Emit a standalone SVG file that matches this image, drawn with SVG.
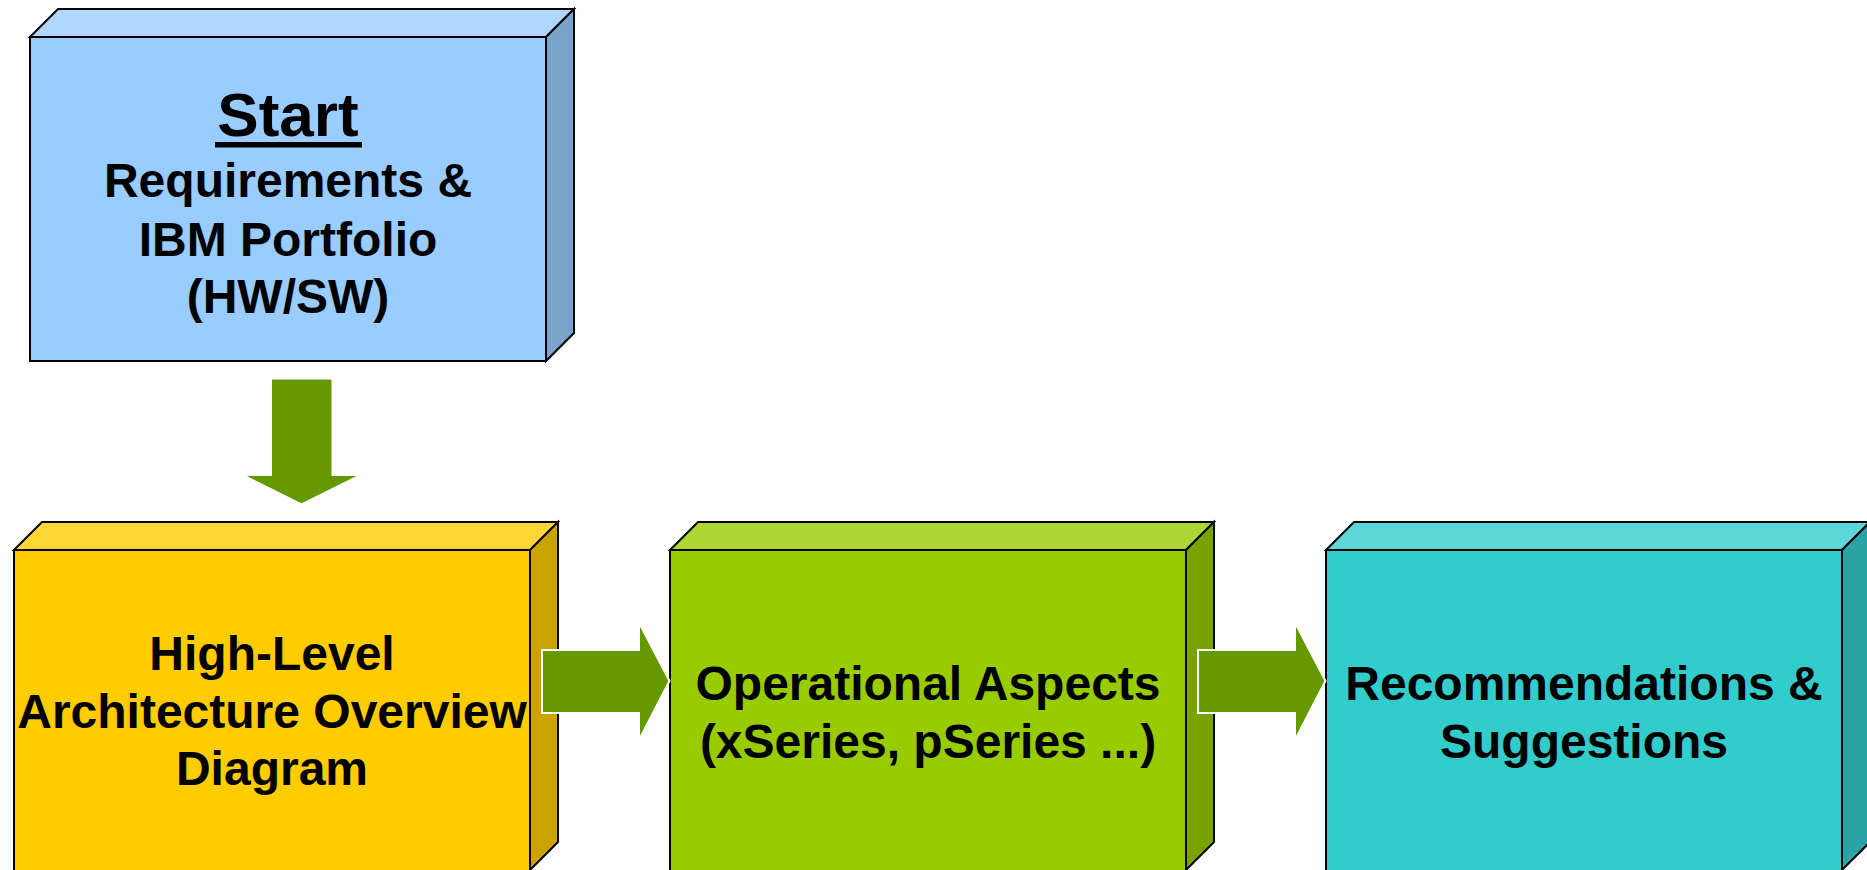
<svg xmlns="http://www.w3.org/2000/svg" width="1867" height="870" viewBox="0 0 1867 870">
<style>
  .edge { stroke: #000000; stroke-width: 2; stroke-linejoin: miter; }
  .label { font-family: "Liberation Sans", Arial, sans-serif; font-weight: bold; font-size: 48px; fill: #000000; text-anchor: middle; }
  .title { font-size: 62px; }
  .arrow { fill: #669900; stroke: #FFFFFF; stroke-width: 2; }
</style>
<rect width="1867" height="870" fill="#FFFFFF"/>
<g id="node-start">
  <polygon class="edge" fill="#B0D7FF" points="30,37 58,9 574,9 546,37"/>
  <polygon class="edge" fill="#7AA3CC" points="546,37 574,9 574,333 546,361"/>
  <rect class="edge" fill="#99CCFF" x="30" y="37" width="516" height="324"/>
  <text class="label title" x="288" y="136">Start</text>
  <rect x="215" y="142" width="147" height="5.5" fill="#000000"/>
  <text class="label" x="288" y="197">Requirements &amp;</text>
  <text class="label" x="288" y="256">IBM Portfolio</text>
  <text class="label" x="288" y="313">(HW/SW)</text>
</g>
<g id="node-architecture">
  <polygon class="edge" fill="#FFD633" points="14,550 42,522 558,522 530,550"/>
  <polygon class="edge" fill="#CCA300" points="530,550 558,522 558,842 530,870"/>
  <rect class="edge" fill="#FFCC00" x="14" y="550" width="516" height="330"/>
  <text class="label" x="272" y="670">High-Level</text>
  <text class="label" x="272" y="728">Architecture Overview</text>
  <text class="label" x="272" y="785">Diagram</text>
</g>
<g id="node-operational">
  <polygon class="edge" fill="#ADD633" points="670,550 698,522 1214,522 1186,550"/>
  <polygon class="edge" fill="#7AA300" points="1186,550 1214,522 1214,842 1186,870"/>
  <rect class="edge" fill="#99CC00" x="670" y="550" width="516" height="330"/>
  <text class="label" x="928" y="700">Operational Aspects</text>
  <text class="label" x="928" y="758">(xSeries, pSeries ...)</text>
</g>
<g id="node-recommendations">
  <polygon class="edge" fill="#5CD6D6" points="1326,550 1354,522 1870,522 1842,550"/>
  <polygon class="edge" fill="#29A3A3" points="1842,550 1870,522 1870,842 1842,870"/>
  <rect class="edge" fill="#33CCCC" x="1326" y="550" width="516" height="330"/>
  <text class="label" x="1584" y="700">Recommendations &amp;</text>
  <text class="label" x="1584" y="758">Suggestions</text>
</g>
<g id="connectors">
  <polygon class="arrow" points="271,378.5 332.5,378.5 332.5,475 361,475 301.5,504.5 242.5,475 271,475"/>
  <polygon class="arrow" points="542,650 639,650 639,622.5 669.5,681 639,740 639,713 542,713"/>
  <polygon class="arrow" points="1198,650 1295,650 1295,622.5 1325.5,681 1295,740 1295,713 1198,713"/>
</g>
</svg>
